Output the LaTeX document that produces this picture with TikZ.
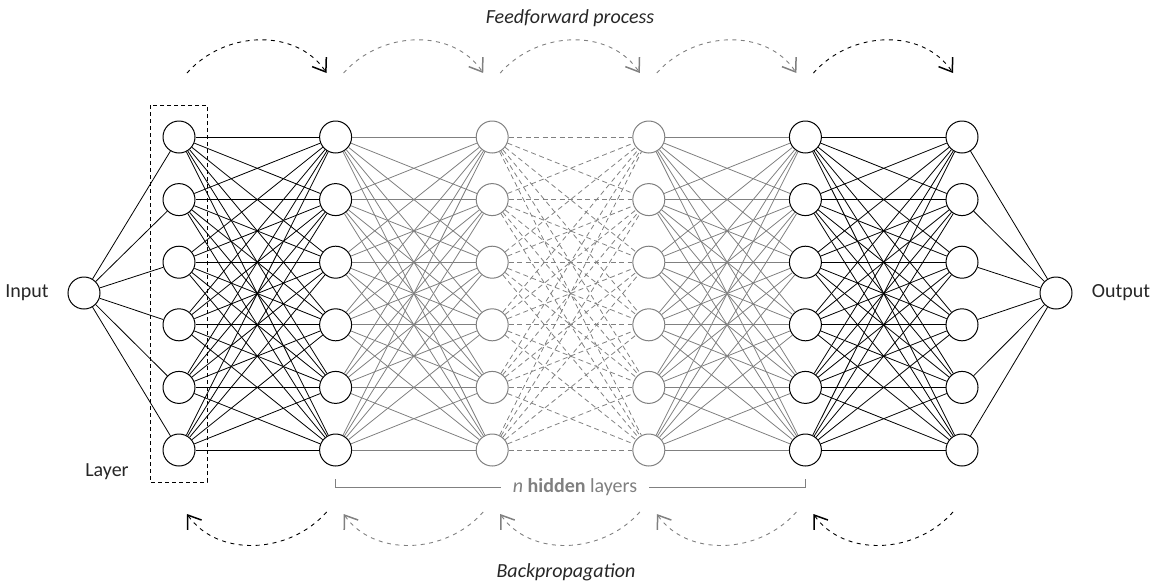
\documentclass[tikz,border=0pt]{standalone}
\usepackage{fontspec}
\setmainfont{Carlito}
\usetikzlibrary{arrows.meta}

\definecolor{hidgray}{gray}{0.5}
\tikzset{
  neuron/.style={circle, draw=#1, minimum size=32pt, inner sep=0pt, line width=1pt},
  neuron/.default=black,
  link/.style={line width=0.8pt, draw=#1},
  link/.default=black,
  dlink/.style={line width=0.8pt, draw=hidgray, dash pattern=on 5pt off 3.5pt},
  flow/.style={line width=0.9pt, draw=#1, dash pattern=on 4pt off 4.5pt,
    -{Straight Barb[length=12pt,width=17pt,line width=1.5pt,#1]}},
  lbl/.style={font=\fontsize{20}{24}\selectfont, text=black!85}
}

\begin{document}
\begin{tikzpicture}[x=1pt, y=-1pt]
  \useasboundingbox (0,0) rectangle (1166,584);

  % neurons of the six layers
  \foreach \c/\col in {1/black,2/black,3/hidgray,4/hidgray,5/black,6/black}{
    \foreach \r in {1,...,6}{
      \node[neuron=\col] (n\c-\r) at ({179+156.6*(\c-1)}, {137+62.6*(\r-1)}) {};
    }
  }
  \node[neuron] (in) at (84,293) {};
  \node[neuron] (out) at (1056,293) {};

  % connections
  \foreach \i in {1,...,6}{
    \draw[link] (in) -- (n1-\i);
    \draw[link] (n6-\i) -- (out);
    \foreach \j in {1,...,6}{
      \draw[link] (n1-\i) -- (n2-\j);
      \draw[link=hidgray] (n2-\i) -- (n3-\j);
      \draw[dlink] (n3-\i) -- (n4-\j);
      \draw[link=hidgray] (n4-\i) -- (n5-\j);
      \draw[link] (n5-\i) -- (n6-\j);
    }
  }

  % labels
  \node[lbl] (inlbl) at (27,293) {Input};
  \node[lbl] (outlbl) at (1121,293) {Output};
  \node[lbl] (layerlbl) at (107,472) {Layer};
  \draw[line width=0.8pt, dash pattern=on 4pt off 3pt] (150,105) rectangle (207,482);

  % n hidden layers
  \node[lbl, text=hidgray, inner xsep=12pt] (hid) at (575,487)
    {\textit{n} \textbf{hidden} layers};
  \coordinate (hidL) at (335,479);
  \coordinate (hidR) at (805,479);
  \draw[link=hidgray] (hidL) |- (hid.west);
  \draw[link=hidgray] (hidR) |- (hid.east);

  % feedforward and backpropagation
  \node[lbl] (fwd) at (570,18) {\textit{Feedforward process}};
  \node[lbl] (bwd) at (566,572) {\textit{Backpropagation}};
  \foreach \k/\col in {1/black,2/hidgray,3/hidgray,4/hidgray,5/black}{
    \pgfmathsetmacro{\xa}{179+156.6*(\k-1)+8}
    \pgfmathsetmacro{\xb}{179+156.6*\k-9}
    \draw[flow=\col] (\xa,73) .. controls (\xa+38,30) and (\xb-30,28) .. (\xb,73);
    \draw[flow=\col] (\xb,512) .. controls (\xb-38,555) and (\xa+30,557) .. (\xa,514);
  }
\end{tikzpicture}
\end{document}
